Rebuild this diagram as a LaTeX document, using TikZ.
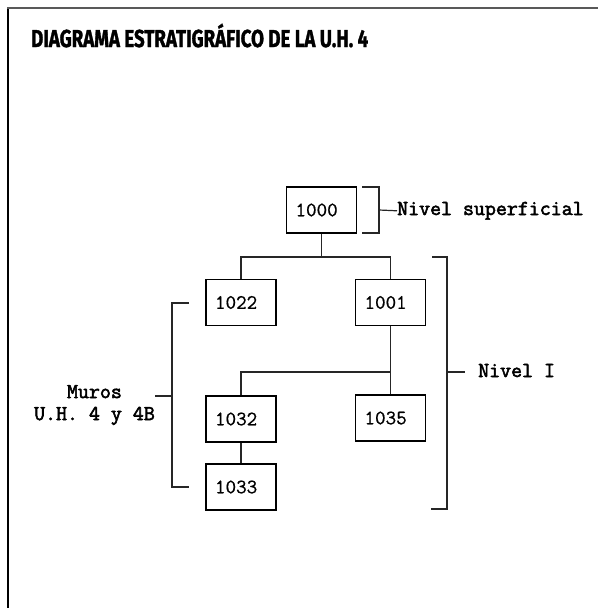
\documentclass[tikz,border=0pt]{standalone}
\usepackage{fontspec}
\newfontfamily\titlefont[FakeBold=1.5]{Fira Sans}
\newfontfamily\numfont[FakeBold=0.7]{Latin Modern Mono}
\newfontfamily\etiqfont[FakeBold=2.5]{Latin Modern Mono}
\usepackage{tikz}
\usetikzlibrary{calc,positioning}

\begin{document}
\begin{tikzpicture}[x=1pt,y=-1pt,
    caja/.style={draw,line width=1.2pt,minimum width=70pt,minimum height=46pt,inner xsep=9pt,inner ysep=0pt,text width=52pt,align=left,font=\numfont\fontsize{20.5}{22}\selectfont},
    etiq/.style={inner sep=0pt,font=\etiqfont\fontsize{21.3}{22}\selectfont},
    linea/.style={line width=1.2pt,black!85}]
            \useasboundingbox (0,0) rectangle (598,608);
            % marco
            \draw[line width=2pt,black] (8,8.3) -- (8,608);
            \draw[line width=2pt,black!65] (7,8.3) -- (598,8.3);
            \node[anchor=base west,inner sep=0pt] (titulo) at (31,47) {\resizebox{337pt}{\height}{\titlefont\bfseries\fontsize{24.5}{26}\selectfont DIAGRAMA ESTRATIGRÁFICO DE LA U.H. 4}};

            \node[caja] (u1000) at (321.5,210) {1000};
            \node[caja] (u1022) at (241,302.5) {1022};
            \node[caja] (u1001) at (390.5,302.5) {1001};
            \node[caja] (u1032) at (241,419) {1032};
            \node[caja] (u1035) at (390.5,418) {1035};
            \node[caja] (u1033) at (241,487) {1033};

            \coordinate (r1) at (321.5,257);
            \coordinate (r2) at (390.5,372);
            \draw[linea] (u1000.south) -- (r1);
            \draw[linea] (u1022.north) |- (r1) -| (u1001.north);
            \draw[linea] (u1001.south) -- (u1035.north);
            \draw[linea] (r2) -| (u1032.north);
            \draw[linea] (u1032.south) -- (u1033.north);

            % llaves
            \node[etiq,anchor=base west] (lsup) at (397,215) {Nivel superficial};
            \node[etiq,anchor=base west] (lniv) at (478,377) {Nivel I};
            \node[etiq,align=center,anchor=east] (lmur) at (155,405) {Muros\\U.H. 4 y 4B};
            \coordinate (bsup) at (379,210);
            \coordinate (bniv) at (447,372);
            \coordinate (bmur) at (172,396);
            \draw[linea] (362,187) -- (379,187) -- (379,233) -- (362,233);
            \draw[linea] (bsup) -- (lsup.west);
            \draw[linea] (432,257) -- (447,257) -- (447,509) -- (431,509);
            \draw[linea] (bniv) -- (465,372);
            \draw[linea] (189,303) -- (172,303) -- (172,487) -- (189,487);
            \draw[linea] (bmur) -- (155,396);
          \end{tikzpicture}
\end{document}
